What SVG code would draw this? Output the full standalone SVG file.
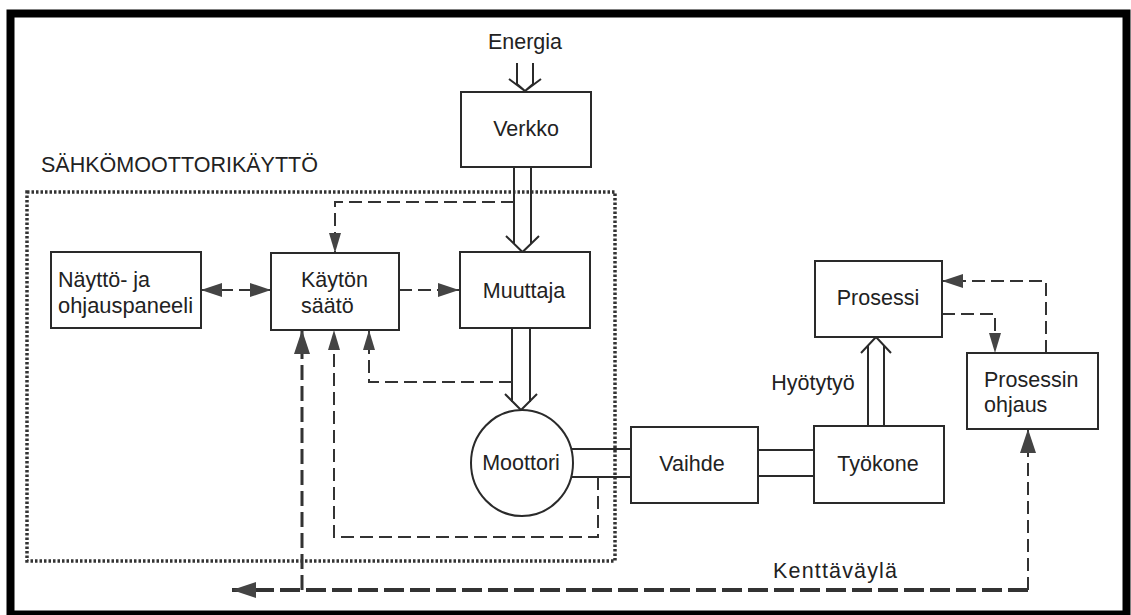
<svg xmlns="http://www.w3.org/2000/svg" width="1131" height="615" viewBox="0 0 1131 615">
<style>
  text { font-family: "Liberation Sans", Arial, sans-serif; font-size: 21.5px; fill: #222; }
  .box { fill: #fff; stroke: #2a2a2a; stroke-width: 2; }
  .solid { fill: none; stroke: #2a2a2a; stroke-width: 2; }
  .dash { fill: none; stroke: #333; stroke-width: 2; stroke-dasharray: 13 6; }
  .bus { fill: none; stroke: #333; stroke-width: 4; stroke-dasharray: 20 6; }
  .busv { fill: none; stroke: #333; stroke-width: 3; stroke-dasharray: 15 6; }
  .dotted { fill: none; stroke: #333; stroke-width: 3.5; stroke-dasharray: 2.5 2; }
  .mid { text-anchor: middle; }
</style>
<defs>
  <marker id="arrL" viewBox="0 0 24 16" refX="24" refY="8" markerWidth="24" markerHeight="16" markerUnits="userSpaceOnUse" orient="auto-start-reverse">
    <path d="M0,0 L24,8 L0,16 Z" fill="#444"/>
  </marker>
  <marker id="arrM" viewBox="0 0 21 14" refX="21" refY="7" markerWidth="21" markerHeight="14" markerUnits="userSpaceOnUse" orient="auto-start-reverse">
    <path d="M0,0 L21,7 L0,14 Z" fill="#444"/>
  </marker>
  <marker id="arrS" viewBox="0 0 20 12" refX="20" refY="6" markerWidth="20" markerHeight="12" markerUnits="userSpaceOnUse" orient="auto-start-reverse">
    <path d="M0,0 L20,6 L0,12 Z" fill="#444"/>
  </marker>
</defs>

<rect x="0" y="0" width="1131" height="615" fill="#fff"/>
<rect id="frame" x="10.5" y="13.5" width="1116" height="601" fill="none" stroke="#000" stroke-width="8"/>

<g id="boundary">
  <rect x="27" y="192" width="588" height="369" class="dotted"/>
  <text x="41" y="172" font-size="21" textLength="277" lengthAdjust="spacingAndGlyphs">SÄHKÖMOOTTORIKÄYTTÖ</text>
</g>

<g id="connectors">
  <!-- Energia input -->
  <path class="solid" d="M517,63 V84 L525,91 M533,63 V84 L525,91 M509,79 L525,91 L541,79"/>
  <!-- Verkko to Muuttaja -->
  <path class="solid" d="M514,167 V244 M531,167 V244 M506,236 L522.5,252 L539,236"/>
  <!-- Muuttaja to Moottori -->
  <path class="solid" d="M512,328 V402 M530,328 V402 M505,394 L521,410 L537,394"/>
  <!-- Hyotytyo -->
  <path class="solid" d="M868,426 V345 M884,426 V345 M861,353 L876,337 L891,353"/>
  <!-- shafts -->
  <path class="solid" d="M571,449 H631 M571,477 H631 M758,450 H814 M758,476 H814"/>

  <!-- control signals -->
  <path class="dash" d="M514,202 H335 V253" marker-end="url(#arrS)"/>
  <path class="dash" d="M201,290 H271" marker-start="url(#arrM)" marker-end="url(#arrM)"/>
  <path class="dash" d="M399,290 H459" marker-end="url(#arrM)"/>
  <path class="dash" d="M512,382 H369 V330" marker-end="url(#arrS)"/>
  <path class="dash" d="M598,477 V537 H334 V330" marker-end="url(#arrS)"/>

  <!-- fieldbus -->
  <path class="bus" d="M1028,590 H232" marker-end="url(#arrL)"/>
  <path class="busv" d="M302,590 V330" marker-end="url(#arrL)"/>
  <path class="dash" d="M1028,590 V429" marker-end="url(#arrL)"/>

  <!-- process control -->
  <path class="dash" d="M1046,353 V281 H942" marker-end="url(#arrM)"/>
  <path class="dash" d="M942,314 H995 V353" marker-end="url(#arrS)"/>
</g>

<g id="energia"><text x="525" y="49" class="mid">Energia</text></g>

<g id="verkko">
  <rect x="461" y="92" width="130" height="75" class="box"/>
  <text x="526" y="136" class="mid">Verkko</text>
</g>

<g id="naytto">
  <rect x="51" y="252" width="150" height="76" class="box"/>
  <text x="58" y="287">Näyttö- ja</text>
  <text x="58" y="313" textLength="135" lengthAdjust="spacingAndGlyphs">ohjauspaneeli</text>
</g>

<g id="kayton">
  <rect x="271" y="253" width="128" height="77" class="box"/>
  <text x="301" y="287">Käytön</text>
  <text x="301" y="313">säätö</text>
</g>

<g id="muuttaja">
  <rect x="460" y="252" width="130" height="76" class="box"/>
  <text x="524" y="298" class="mid">Muuttaja</text>
</g>

<g id="moottori">
  <ellipse cx="522" cy="463" rx="51" ry="53" class="box"/>
  <text x="521" y="470" class="mid">Moottori</text>
</g>

<g id="vaihde">
  <rect x="631" y="427" width="127" height="76" class="box"/>
  <text x="692" y="471" class="mid">Vaihde</text>
</g>

<g id="tyokone">
  <rect x="814" y="426" width="130" height="77" class="box"/>
  <text x="878" y="471" class="mid">Työkone</text>
</g>

<g id="prosessi">
  <rect x="815" y="261" width="127" height="76" class="box"/>
  <text x="878" y="305" class="mid">Prosessi</text>
</g>

<g id="prosessinohjaus">
  <rect x="967" y="353" width="131" height="76" class="box"/>
  <text x="984" y="387">Prosessin</text>
  <text x="984" y="412">ohjaus</text>
</g>

<g id="labels">
  <text x="813" y="390" class="mid">Hyötytyö</text>
  <text x="835" y="578" class="mid" textLength="124" lengthAdjust="spacing">Kenttäväylä</text>
</g>
</svg>
